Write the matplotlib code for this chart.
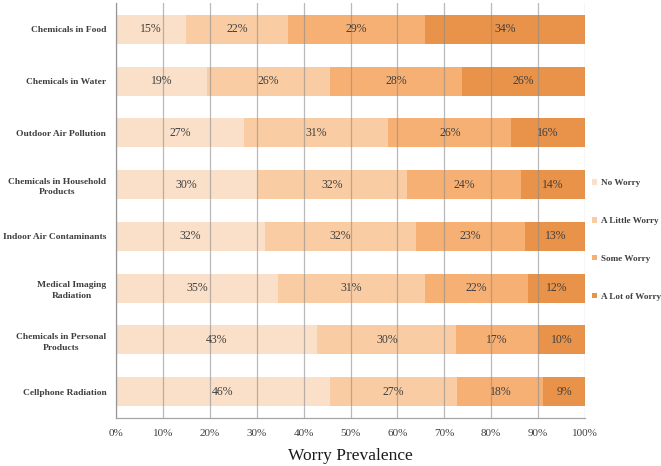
import matplotlib
matplotlib.use("Agg")
import matplotlib.pyplot as plt
import numpy as np

categories = [
    "Chemicals in Food",
    "Chemicals in Water",
    "Outdoor Air Pollution",
    "Chemicals in Household\nProducts",
    "Indoor Air Contaminants",
    "Medical Imaging\nRadiation",
    "Chemicals in Personal\nProducts",
    "Cellphone Radiation",
]
series_names = ["No Worry", "A Little Worry", "Some Worry", "A Lot of Worry"]
no_worry = [14.9, 19.4, 27.3, 30.0, 31.8, 34.6, 42.9, 45.6]
little_worry = [21.7, 26.3, 30.8, 32.1, 32.1, 31.2, 29.7, 27.2]
some_worry = [29.3, 28.1, 26.2, 24.3, 23.4, 22.1, 17.3, 18.3]
lot_worry = [34.1, 26.2, 15.7, 13.6, 12.7, 12.1, 10.1, 8.9]
xticks = [0, 10, 20, 30, 40, 50, 60, 70, 80, 90, 100]

colors = ["#fbe0c9", "#f9cca3", "#f6b074", "#e8924a"]
text_col = "#3f3f3f"
serif = "Liberation Serif"

fig = plt.figure(figsize=(6.61, 4.66), dpi=100)
ax = fig.add_axes([116 / 661, 1 - 418 / 466, 469 / 661, 415 / 466])

y = np.arange(len(categories))
left = np.zeros(len(categories))
handles = []
for name, vals, c in zip(series_names, [no_worry, little_worry, some_worry, lot_worry], colors):
    vals = np.array(vals)
    bars = ax.barh(y, vals, left=left, height=0.56, color=c, label=name, zorder=1)
    handles.append(bars)
    for yi, l, v in zip(y, left, vals):
        ax.text(l + v / 2, yi, f"{v:.0f}%", ha="center", va="center",
                fontsize=8.5, family=serif, color=text_col, zorder=3)
    left += vals

ax.set_ylim(len(categories) - 0.49, -0.51)
ax.set_xlim(0, 100)
ax.set_xticks(xticks)
ax.set_xticklabels([f"{t}%" for t in xticks], family=serif, fontsize=8, color=text_col)
ax.set_yticks(y)
ax.set_yticklabels(categories, family=serif, fontsize=6.8, fontweight="bold", color=text_col)
for lab in ax.get_yticklabels():
    lab.set_multialignment("center")
    lab.set_linespacing(1.45)
ax.tick_params(axis="y", length=0, pad=7)
ax.tick_params(axis="x", length=0, pad=8)

ax.grid(axis="x", color="#8c8c8c", alpha=0.6, lw=0.9, zorder=2)
ax.set_axisbelow(False)
for s in ["top", "right"]:
    ax.spines[s].set_visible(False)
for s in ["left", "bottom"]:
    ax.spines[s].set_color("#a6a6a6")
    ax.spines[s].set_linewidth(0.9)

ax.set_xlabel("Worry Prevalence", family=serif, fontsize=12.5, color="#1a1a1a", labelpad=7)

fig.legend(handles=handles, labels=series_names, loc="upper left",
           bbox_to_anchor=(584 / 661, 1 - 171 / 466), frameon=False,
           prop={"family": serif, "size": 6.6, "weight": "bold"},
           handlelength=0.55, handleheight=0.55, handletextpad=0.4,
           labelspacing=3.25, labelcolor=text_col)

fig.savefig("out.png", dpi=100)
